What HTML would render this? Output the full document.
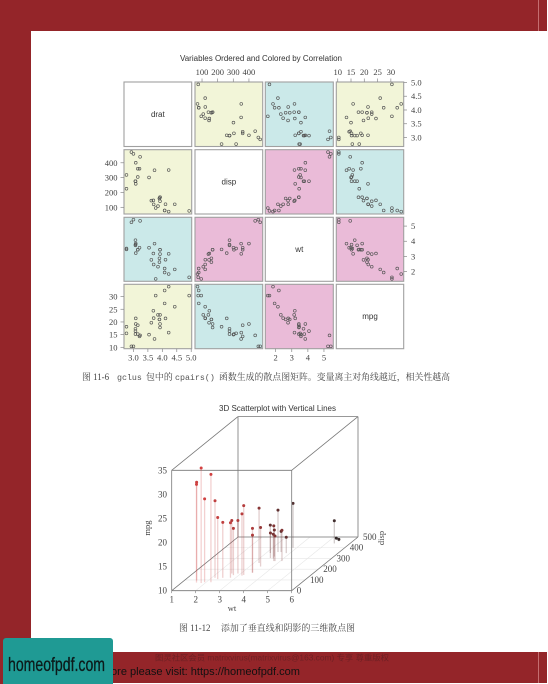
<!DOCTYPE html>
<html lang="zh">
<head>
<meta charset="utf-8">
<title>Scatterplot matrix and 3D scatterplot</title>
<style>
html,body{margin:0;padding:0;background:#fff;width:548px;height:684px;overflow:hidden}
svg{display:block}
.sans{font-family:"Liberation Sans",sans-serif}
.serif{font-family:"Liberation Serif","Noto Serif CJK SC",serif}
.cap{font-family:"Liberation Serif","Noto Serif CJK SC",serif;font-size:8.9px;fill:#444}
.mono{font-family:"Liberation Mono",monospace;font-size:8.3px;fill:#555}
</style>
</head>
<body>
<svg id="page" xmlns="http://www.w3.org/2000/svg" width="548" height="684" viewBox="0 0 548 684">
  <rect x="0" y="0" width="548" height="684" fill="#fff"/>
  <rect x="0" y="0" width="547" height="31" fill="#942529"/>
  <rect x="0" y="0" width="31" height="684" fill="#942529"/>
  <rect x="0" y="652" width="547" height="31" fill="#942529"/>
  <rect x="538" y="0" width="1" height="31" fill="#c46e70"/>
  <rect x="538" y="652" width="1" height="31" fill="#c46e70"/>

  <text class="sans" x="261" y="61" font-size="8px" fill="#333" text-anchor="middle" textLength="162" lengthAdjust="spacingAndGlyphs">Variables Ordered and Colored by Correlation</text>
  <g id="matrix"></g>

  <g>
    <text class="cap" x="82" y="380">图 11-6</text>
    <text class="mono" x="117" y="380">gclus</text>
    <text class="cap" x="146" y="380" textLength="26.7">包中的</text>
    <text class="mono" x="175" y="380">cpairs()</text>
    <text class="cap" x="219" y="380" textLength="231">函数生成的散点图矩阵。变量离主对角线越近，相关性越高</text>
  </g>

  <text class="sans" x="277.5" y="411" font-size="8px" fill="#333" text-anchor="middle" textLength="117" lengthAdjust="spacingAndGlyphs">3D Scatterplot with Vertical Lines</text>
  <g id="plot3d"></g>
  <text class="serif" x="232" y="611" font-size="8.5px" fill="#444" text-anchor="middle">wt</text>
  <text class="serif" font-size="8.5px" fill="#444" text-anchor="middle" transform="translate(150,528) rotate(-90)">mpg</text>
  <text class="serif" font-size="8.5px" fill="#444" text-anchor="middle" transform="translate(384,538) rotate(-90)">disp</text>

  <g>
    <text class="cap" x="179" y="631">图 11-12</text>
    <text class="cap" x="221" y="631" textLength="134">添加了垂直线和阴影的三维散点图</text>
  </g>

  <text x="155" y="660.5" font-size="8px" fill="#6e2024" textLength="234" lengthAdjust="spacingAndGlyphs" style="font-family:'Liberation Sans','Noto Sans CJK SC',sans-serif">图灵社区会员 matrixvirus(matrixvirus@163.com) 专享 尊重版权</text>
  <text class="sans" x="111" y="675" font-size="11px" fill="#111" textLength="189" lengthAdjust="spacingAndGlyphs">ore please visit: https://homeofpdf.com</text>
  <rect x="3" y="638" width="110" height="50" rx="3" fill="#1f9a94"/>
  <text class="sans" x="8" y="671" font-size="19px" fill="#0c1a1a" stroke="#0c1a1a" stroke-width="0.3" textLength="97" lengthAdjust="spacingAndGlyphs">homeofpdf.com</text>
</svg>

<script>
const mpg = [21,21,22.8,21.4,18.7,18.1,14.3,24.4,22.8,19.2,17.8,16.4,17.3,15.2,10.4,10.4,14.7,32.4,30.4,33.9,21.5,15.5,15.2,13.3,19.2,27.3,26,30.4,15.8,19.7,15,21.4];
const disp = [160,160,108,258,360,225,360,146.7,140.8,167.6,167.6,275.8,275.8,275.8,472,460,440,78.7,75.7,71.1,120.1,318,304,350,400,79,120.3,95.1,351,145,301,121];
const drat = [3.9,3.9,3.85,3.08,3.15,2.76,3.21,3.69,3.92,3.92,3.92,3.07,3.07,3.07,2.93,3,3.23,4.08,4.93,4.22,3.7,2.76,3.15,3.73,3.08,4.08,4.43,3.77,4.22,3.62,3.54,4.11];
const wt = [2.62,2.875,2.32,3.215,3.44,3.46,3.57,3.19,3.15,3.44,3.44,4.07,3.73,3.78,5.25,5.424,5.345,2.2,1.615,1.835,2.465,3.52,3.435,3.84,3.845,1.935,2.14,1.513,3.17,2.77,3.57,2.78];

const matrixVars = ['drat','disp','wt','mpg'];
const dratTicks = [3,3.5,4,4.5,5];
const dratTickLabels = ['3.0','3.5','4.0','4.5','5.0'];
const dispTicks = [100,200,300,400];
const wtTicks = [2,3,4,5];
const mpgTicks = [10,15,20,25,30];
const wt3dTicks = [1,2,3,4,5,6];
const disp3dTicks = [0,100,200,300,400,500];
const mpg3dTicks = [10,15,20,25,30,35];

const NS = 'http://www.w3.org/2000/svg';
function el(parent, tag, props, text) {
  const n = document.createElementNS(NS, tag);
  for (const k in props) n.setAttribute(k, props[k]);
  if (text !== undefined) n.textContent = text;
  parent.appendChild(n);
  return n;
}

/* ---------- scatterplot matrix ---------- */
const matrix = document.getElementById('matrix');
const seriesOf = {drat: drat, disp: disp, wt: wt, mpg: mpg};
const colEdges = [[124,191.7],[195,262.7],[265.3,333.3],[336.3,403.7]];
const rowEdges = [[82,146.5],[149.7,214],[217.3,281.3],[284.3,348.7]];
const PINK = '#eabbd8', CYAN = '#cbe9e9', YELLOW = '#f2f5d8';
function panelFill(a, b) {
  const key = [a, b].sort().join('-');
  if (key === 'disp-wt' || key === 'mpg-wt') return PINK;
  if (key === 'disp-mpg' || key === 'drat-wt') return CYAN;
  return YELLOW;
}
function scaleFor(name, lo, hi, invert) {
  const v = seriesOf[name];
  const mn = Math.min.apply(null, v), mx = Math.max.apply(null, v);
  const pad = (mx - mn) * 0.04;
  return function (val) {
    const t = (val - (mn - pad)) / (mx - mn + 2 * pad);
    return invert ? hi - t * (hi - lo) : lo + t * (hi - lo);
  };
}
function axisTickMark(x1, y1, x2, y2) {
  const t = el(matrix, 'line', {x1: x1, y1: y1, x2: x2, y2: y2, stroke: '#888', 'stroke-width': 0.7});
  
  
}
function axisLabel(x, y, anchor, str) {
  const t = el(matrix, 'text', {x: x, y: y, 'text-anchor': anchor, 'font-size': '8.5px', fill: '#444', class: 'serif'}, str);
  
  
}
matrixVars.forEach(function (rowVar, r) {
  matrixVars.forEach(function (colVar, c) {
    const xe = colEdges[c], ye = rowEdges[r];
    const rect = el(matrix, 'rect', {x: xe[0], y: ye[0], width: xe[1] - xe[0], height: ye[1] - ye[0],
      fill: r === c ? '#fff' : panelFill(rowVar, colVar), stroke: '#a0a0a0', 'stroke-width': 1.1});
    
    
    if (r === c) {
      const lab = el(matrix, 'text', {x: (xe[0] + xe[1]) / 2, y: (ye[0] + ye[1]) / 2 + 2.5, 'text-anchor': 'middle',
        'font-size': '8px', fill: '#333', class: 'sans'}, rowVar);
      
      
      return;
    }
    const sx = scaleFor(colVar, xe[0], xe[1], false);
    const sy = scaleFor(rowVar, ye[0], ye[1], true);
    seriesOf[colVar].forEach(function (xv, i) {
      const p = el(matrix, 'circle', {cx: sx(xv), cy: sy(seriesOf[rowVar][i]), r: 1.4, fill: 'none', stroke: '#555', 'stroke-width': 0.65});
      
      
    });
  });
});
/* outer axes */
(function () {
  const sDisp = scaleFor('disp', colEdges[1][0], colEdges[1][1], false);
  dispTicks.forEach(function (v) { axisTickMark(sDisp(v), 78.5, sDisp(v), 82); axisLabel(sDisp(v), 75, 'middle', String(v)); });
  const sMpg = scaleFor('mpg', colEdges[3][0], colEdges[3][1], false);
  mpgTicks.forEach(function (v) { axisTickMark(sMpg(v), 78.5, sMpg(v), 82); axisLabel(sMpg(v), 75, 'middle', String(v)); });
  const sDrat = scaleFor('drat', colEdges[0][0], colEdges[0][1], false);
  dratTicks.forEach(function (v, i) { axisTickMark(sDrat(v), 348.7, sDrat(v), 352); axisLabel(sDrat(v), 360.5, 'middle', dratTickLabels[i]); });
  const sWt = scaleFor('wt', colEdges[2][0], colEdges[2][1], false);
  wtTicks.forEach(function (v) { axisTickMark(sWt(v), 348.7, sWt(v), 352); axisLabel(sWt(v), 360.5, 'middle', String(v)); });
  const yDisp = scaleFor('disp', rowEdges[1][0], rowEdges[1][1], true);
  dispTicks.forEach(function (v) { axisTickMark(120.5, yDisp(v), 124, yDisp(v)); axisLabel(117.5, yDisp(v) + 3, 'end', String(v)); });
  const yMpg = scaleFor('mpg', rowEdges[3][0], rowEdges[3][1], true);
  mpgTicks.forEach(function (v) { axisTickMark(120.5, yMpg(v), 124, yMpg(v)); axisLabel(117.5, yMpg(v) + 3, 'end', String(v)); });
  const yDrat = scaleFor('drat', rowEdges[0][0], rowEdges[0][1], true);
  dratTicks.forEach(function (v, i) { axisTickMark(403.7, yDrat(v), 407, yDrat(v)); axisLabel(411, yDrat(v) + 3, 'start', dratTickLabels[i]); });
  const yWt = scaleFor('wt', rowEdges[2][0], rowEdges[2][1], true);
  wtTicks.forEach(function (v) { axisTickMark(403.7, yWt(v), 407, yWt(v)); axisLabel(411, yWt(v) + 3, 'start', String(v)); });
})();

/* ---------- 3D scatterplot ---------- */
const plot3d = document.getElementById('plot3d');
const ORIGIN_X = 171.7, ORIGIN_Y = 590.7, X_UNIT = 24, Z_UNIT = 4.816, DEPTH_X = 0.1326, DEPTH_Y = 0.1074;
function px(w, d) { return ORIGIN_X + (w - 1) * X_UNIT + d * DEPTH_X; }
function py(m, d) { return ORIGIN_Y - (m - 10) * Z_UNIT - d * DEPTH_Y; }
function seg3d(name, a, b, stroke, width) {
  const l = el(plot3d, 'line', {x1: px(a[0], a[1]), y1: py(a[2], a[1]), x2: px(b[0], b[1]), y2: py(b[2], b[1]), stroke: stroke, 'stroke-width': width});
  
  
}
function label3d(name, x, y, anchor, str) {
  const t = el(plot3d, 'text', {x: x, y: y, 'text-anchor': anchor, 'font-size': '9px', fill: '#444', class: 'serif'}, str);
  
  
}
/* floor grid */
wt3dTicks.forEach(function (w) { seg3d('floor-grid-wt', [w, 0, 10], [w, 500, 10], '#e6e6e6', 0.6); });
disp3dTicks.forEach(function (d) { seg3d('floor-grid-disp', [1, d, 10], [6, d, 10], '#e6e6e6', 0.6); });
/* back and side box edges */
const BOX = '#777';
seg3d('box-edge', [1, 500, 10], [6, 500, 10], BOX, 0.8);
seg3d('box-edge', [1, 500, 10], [1, 500, 35], BOX, 0.8);
seg3d('box-edge', [6, 500, 10], [6, 500, 35], BOX, 0.8);
seg3d('box-edge', [1, 500, 35], [6, 500, 35], BOX, 0.8);
seg3d('box-edge', [1, 0, 10], [1, 500, 10], BOX, 0.8);
seg3d('box-edge', [6, 0, 10], [6, 500, 10], BOX, 0.8);
seg3d('box-edge', [1, 0, 35], [1, 500, 35], BOX, 0.8);
seg3d('box-edge', [6, 0, 35], [6, 500, 35], BOX, 0.8);
seg3d('box-edge', [1, 0, 35], [6, 0, 35], BOX, 0.8);
/* drop lines and points */
function depthColor(d) {
  const t = Math.min(1, d / 500);
  const red = Math.round(240 * (1 - t) + 40 * t);
  const other = Math.round(70 * (1 - t) + 40 * t);
  return 'rgb(' + red + ',' + other + ',' + other + ')';
}
wt.forEach(function (w, i) {
  const line = el(plot3d, 'line', {x1: px(w, disp[i]), y1: py(mpg[i], disp[i]), x2: px(w, disp[i]), y2: py(10, disp[i]),
    stroke: depthColor(disp[i]), 'stroke-width': 1.3, opacity: 0.24});
  
  
});
wt.forEach(function (w, i) {
  const p = el(plot3d, 'circle', {cx: px(w, disp[i]), cy: py(mpg[i], disp[i]), r: 1.5, fill: depthColor(disp[i])});
  
  
});
/* front box edges on top */
seg3d('box-edge', [1, 0, 10], [6, 0, 10], BOX, 0.8);
seg3d('box-edge', [1, 0, 10], [1, 0, 35], BOX, 0.8);
seg3d('box-edge', [6, 0, 10], [6, 0, 35], BOX, 0.8);
/* axis labels */
wt3dTicks.forEach(function (w) {
  label3d('x-tick-label', px(w, 0), 602.5, 'middle', String(w));
  seg3d('x-tick', [w, 0, 10], [w, 0, 9.5], BOX, 0.6);
});
mpg3dTicks.forEach(function (m) {
  label3d('z-tick-label', 167, py(m, 0) + 3, 'end', String(m));
});
disp3dTicks.forEach(function (d) {
  label3d('y-tick-label', px(6, d) + 5, py(10, d) + 3, 'start', String(d));
});
</script>
</body>
</html>
